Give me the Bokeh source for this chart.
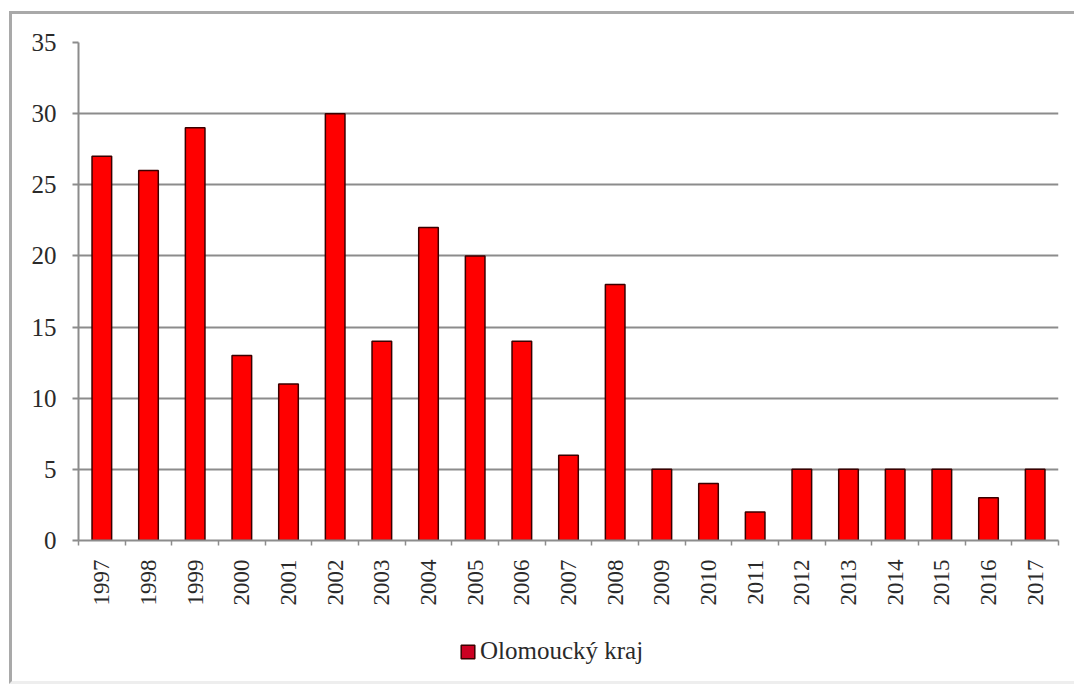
from bokeh.plotting import figure
from bokeh.models import Range1d, FixedTicker, Legend, LegendItem, ColumnDataSource
from bokeh.layouts import column
from bokeh.embed import file_html
from bokeh.resources import INLINE
import math

years = [1997, 1998, 1999, 2000, 2001, 2002, 2003, 2004, 2005, 2006, 2007,
         2008, 2009, 2010, 2011, 2012, 2013, 2014, 2015, 2016, 2017]
values = [27, 26, 29, 13, 11, 30, 14, 22, 20, 14, 6,
          18, 5, 4, 2, 5, 5, 5, 5, 3, 5]
series_name = "Olomoucký kraj"
y_ticks = [0, 5, 10, 15, 20, 25, 30, 35]

FONT = "Liberation Serif"
BAR_FILL = "#ff0000"
BAR_LINE = "#3a0000"

src = ColumnDataSource(dict(x=years, top=values))

p = figure(width=1062, height=612, output_backend="svg", toolbar_location=None,
           x_range=Range1d(years[0] - 0.5, years[-1] + 0.5),
           y_range=Range1d(0, 35),
           min_border_left=66, min_border_right=16, min_border_top=28,
           min_border_bottom=86)
p.outline_line_color = None
p.background_fill_color = "white"
p.border_fill_color = "white"

r = p.vbar(x="x", top="top", width=0.42, bottom=0, source=src,
           fill_color=BAR_FILL, line_color=BAR_LINE, line_width=1.5)

# y axis
p.yaxis.ticker = FixedTicker(ticks=y_ticks)
p.yaxis.axis_line_color = "#8c8c8c"
p.yaxis.axis_line_width = 2
p.yaxis.major_tick_line_color = "#8c8c8c"
p.yaxis.major_tick_line_width = 2
p.yaxis.major_tick_out = 6
p.yaxis.major_tick_in = 0
p.yaxis.minor_tick_line_color = None
p.yaxis.major_label_text_font = FONT
p.yaxis.major_label_text_font_size = "25px"
p.yaxis.major_label_text_color = "#2a2a2a"
p.yaxis.major_label_standoff = 16

# x axis
p.xaxis.ticker = FixedTicker(ticks=years, minor_ticks=[y - 0.5 for y in years] + [years[-1] + 0.5])
p.xaxis.major_label_overrides = {y: str(y) for y in years}
p.xaxis.major_label_orientation = math.pi / 2
p.xaxis.axis_line_color = "#8c8c8c"
p.xaxis.axis_line_width = 2
p.xaxis.major_tick_out = 0
p.xaxis.major_tick_in = 0
p.xaxis.minor_tick_out = 5
p.xaxis.minor_tick_in = 0
p.xaxis.minor_tick_line_color = "#8c8c8c"
p.xaxis.minor_tick_line_width = 1.5
p.xaxis.major_label_text_font = FONT
p.xaxis.major_label_text_font_size = "23px"
p.xaxis.major_label_text_color = "#2a2a2a"
p.xaxis.major_label_standoff = 14

p.xgrid.grid_line_color = None
p.ygrid.ticker = FixedTicker(ticks=y_ticks)
p.ygrid.grid_line_color = "#8c8c8c"
p.ygrid.grid_line_width = 2

# legend strip below the chart (legend in a side panel does not lay out here)
p2 = figure(width=1062, height=55, output_backend="svg", toolbar_location=None,
            x_range=Range1d(years[0] - 0.5, years[-1] + 0.5),
            y_range=Range1d(0, 35),
            x_axis_type=None, y_axis_type=None,
            min_border=0, min_border_left=0, min_border_right=0,
            min_border_top=0, min_border_bottom=0)
p2.outline_line_color = None
p2.grid.grid_line_color = None
p2.border_fill_color = "white"
# hidden copy of the series: only its legend swatch is drawn
proxy = p2.vbar(x="x", top="top", width=0.42, source=src, fill_color="#cc0022",
                line_color=BAR_LINE, line_width=1.5, visible=False)
legend = Legend(items=[LegendItem(label=series_name, renderers=[proxy], index=0)],
                location=(381, 16), orientation="horizontal",
                label_text_font=FONT, label_text_font_size="25px",
                label_text_color="#2a2a2a", glyph_width=17, glyph_height=17,
                label_standoff=4, border_line_color=None, background_fill_alpha=0,
                inactive_fill_alpha=0,
                margin=0, padding=0)
p2.add_layout(legend, "center")

layout = column(p, p2, spacing=0,
                styles={"border-top": "3px solid #a9a9a9", "border-left": "3px solid #a9a9a9",
                        "border-bottom": "3px solid #eeeeee",
                        "margin-left": "9px", "margin-top": "11px"})

open("out.html", "w").write(file_html(layout, INLINE))
